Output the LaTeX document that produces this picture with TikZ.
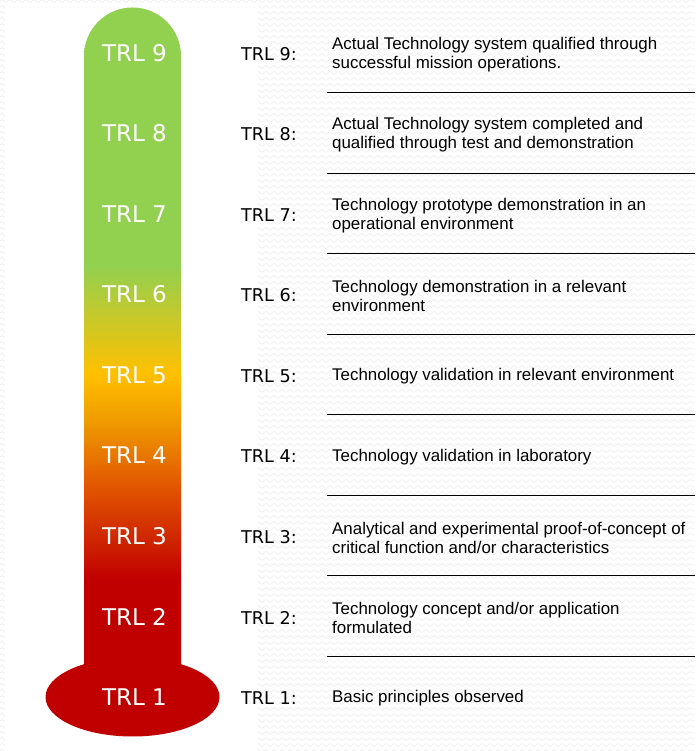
\documentclass[tikz,border=0pt]{standalone}
\usepackage{fontspec}
\setmainfont{Liberation Sans}
\newfontfamily\verdanafont{DejaVu Sans}
\usetikzlibrary{decorations.pathmorphing}
\definecolor{trlred}{HTML}{C00000}
\definecolor{trlorange}{HTML}{E05200}
\definecolor{trlamber}{HTML}{F09C00}
\definecolor{trlyellow}{HTML}{FFC000}
\definecolor{trlgreen}{HTML}{92D050}
\definecolor{zigzaggray}{HTML}{EDEDED}
\pgfdeclareverticalshading{trlbar}{100bp}{color(0bp)=(trlred); color(33.5bp)=(trlred); color(40bp)=(trlorange); color(45.1bp)=(trlamber); color(48.4bp)=(trlyellow); color(56.3bp)=(trlgreen); color(100bp)=(trlgreen)}

\begin{document}
\begin{tikzpicture}[x=1pt, y=1pt,
  level/.style={font=\verdanafont\fontsize{23}{27}\selectfont, text=white},
  tag/.style={font=\verdanafont\fontsize{17.6}{20}\selectfont, anchor=west, inner sep=0pt},
  desc/.style={font=\fontsize{16.9}{19}\selectfont, anchor=west, align=left, inner sep=0pt},
  rule/.style={line width=0.9pt}]
\useasboundingbox (0,0) rectangle (695,751);

% Background texture
\fill[white] (0,0) rectangle (695,751);
\foreach \r in {0,6,...,750} {
    \draw[zigzaggray, line width=0.5pt, decorate, decoration={zigzag, segment length=8pt, amplitude=1.5pt}] (0,\r) -- (695,\r);
}
\fill[white] (5,0) rectangle (258,746);

% Thermometer
\fill[trlred] (132.5,54) ellipse [x radius=87, y radius=39.5];
\shade[shading=trlbar] (84,54) -- (84,695) arc[start angle=180, end angle=0, radius=48.5] -- (181,54) -- cycle;

% Levels and tags
\foreach \n in {1,...,9} {
    \node[level] (lvl\n) at (134.5,{54+80.5*(\n-1)}) {TRL \n};
    \node[tag] (tag\n) at (241,{53+80.5*(\n-1)}) {TRL \n:};
}

% Separators
\foreach \n in {1,...,8} {
    \draw[rule] (327,{95+80.5*(\n-1)}) -- (695,{95+80.5*(\n-1)});
}

% Descriptions
\node[desc] (desc9) at (332,696.5) {Actual Technology system qualified through\\successful mission operations.};
\node[desc] (desc8) at (332,616) {Actual Technology system completed and\\qualified through test and demonstration};
\node[desc] (desc7) at (332,535.5) {Technology prototype demonstration in an\\operational environment};
\node[desc] (desc6) at (332,455) {Technology demonstration in a relevant\\environment};
\node[desc] (desc5) at (332,374.5) {Technology validation in relevant environment};
\node[desc] (desc4) at (332,294) {Technology validation in laboratory};
\node[desc] (desc3) at (332,213.5) {Analytical and experimental proof-of-concept of\\critical function and/or characteristics};
\node[desc] (desc2) at (332,133) {Technology concept and/or application\\formulated};
\node[desc] (desc1) at (332,52.5) {Basic principles observed};
\end{tikzpicture}
\end{document}
